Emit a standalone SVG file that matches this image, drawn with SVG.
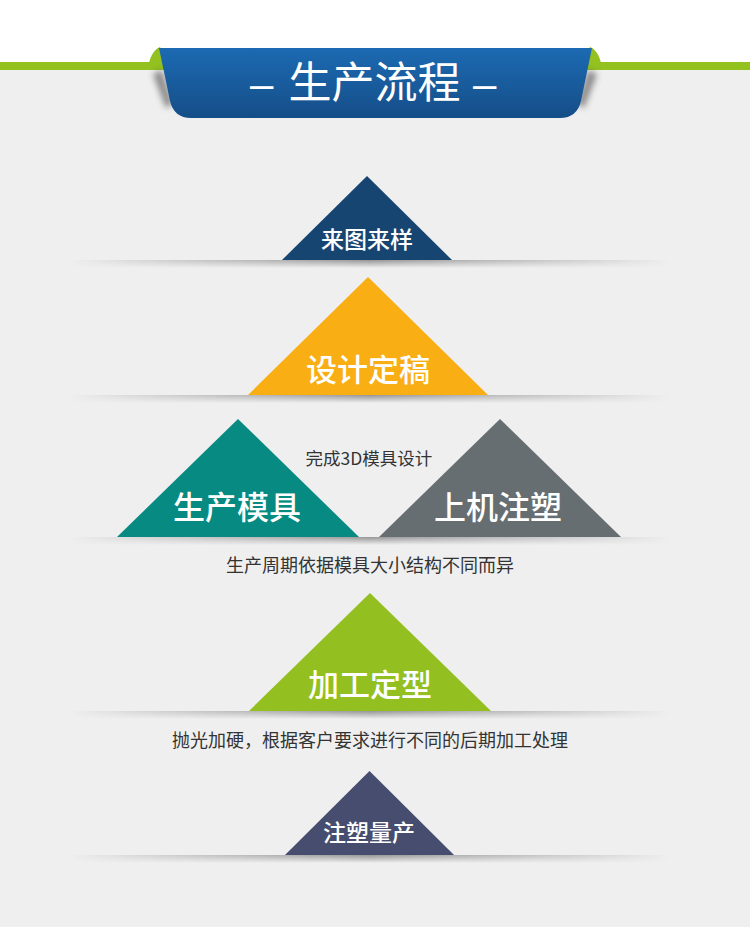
<svg xmlns="http://www.w3.org/2000/svg" width="750" height="927" viewBox="0 0 750 927">
  <defs>
    <style>
      .cjk { font-family: "Noto Sans CJK SC", "Noto Sans", sans-serif; }
      .tri-label { fill: #ffffff; text-anchor: middle; font-family: "Noto Sans CJK SC", sans-serif; font-weight: 500; }
      .note { fill: #333333; text-anchor: middle; font-family: "Noto Sans CJK SC", sans-serif; }
      .shadow { fill: url(#shadowH); mask: url(#shadowMask); }
    </style>
    <linearGradient id="bannerGrad" x1="0" y1="0" x2="0" y2="1">
      <stop offset="0" stop-color="#1c6ab2"/>
      <stop offset="1" stop-color="#154e88"/>
    </linearGradient>
    <linearGradient id="shadowH" x1="0" y1="0" x2="1" y2="0">
      <stop offset="0" stop-color="#b0b0b0" stop-opacity="0"/>
      <stop offset="0.25" stop-color="#b8b8b8" stop-opacity="0.85"/>
      <stop offset="0.5" stop-color="#959595" stop-opacity="1"/>
      <stop offset="0.75" stop-color="#b8b8b8" stop-opacity="0.85"/>
      <stop offset="1" stop-color="#b0b0b0" stop-opacity="0"/>
    </linearGradient>
    <linearGradient id="shadowV" x1="0" y1="0" x2="0" y2="1">
      <stop offset="0" stop-color="#ffffff" stop-opacity="1"/>
      <stop offset="1" stop-color="#ffffff" stop-opacity="0"/>
    </linearGradient>
    <mask id="shadowMask" maskContentUnits="objectBoundingBox">
      <rect x="0" y="0" width="1" height="1" fill="url(#shadowV)"/>
    </mask>
    <filter id="blur3" x="-50%" y="-50%" width="200%" height="200%">
      <feGaussianBlur stdDeviation="3"/>
    </filter>
  </defs>

  <!-- background -->
  <rect x="0" y="0" width="750" height="927" fill="#efefef"/>
  <rect x="0" y="0" width="750" height="63" fill="#ffffff"/>

  <!-- header -->
  <g id="header">
    <rect x="0" y="62" width="750" height="8" fill="#93c11f"/>
    <path d="M148,70 C149,58 153,50 160,47 L172,70 Z" fill="#93c11f"/>
    <path d="M602,70 C601,58 597,50 590,47 L578,70 Z" fill="#93c11f"/>
    <path d="M162,70 L153,74 L166,108 L173,104 Z" fill="#444444" opacity="0.6" filter="url(#blur3)"/>
    <path d="M588,70 L597,74 L584,108 L577,104 Z" fill="#444444" opacity="0.6" filter="url(#blur3)"/>
    <path d="M159,48 L592,48 L581,101 Q577,118 560,118 L191,118 Q174,118 170,101 Z" fill="url(#bannerGrad)"/>
    <text class="cjk" y="98" fill="#ffffff" font-size="43"><tspan x="250" font-family="Liberation Sans, sans-serif" font-size="42">–</tspan><tspan x="374.5" text-anchor="middle">生产流程</tspan><tspan x="473" font-family="Liberation Sans, sans-serif" font-size="42">–</tspan></text>
  </g>

  <!-- shadows under bases -->
  <g id="shadows">
    <rect class="shadow" x="70" y="260" width="600" height="8"/>
    <rect class="shadow" x="70" y="395" width="600" height="8"/>
    <rect class="shadow" x="70" y="537" width="600" height="8"/>
    <rect class="shadow" x="70" y="711" width="600" height="8"/>
    <rect class="shadow" x="70" y="855" width="600" height="8"/>
  </g>

  <g id="node-laitu">
    <polygon points="367,176 282,260 452,260" fill="#164572"/>
    <text class="tri-label" x="367" y="248" font-size="23">来图来样</text>
  </g>

  <g id="node-sheji">
    <polygon points="368,277 248,395 488,395" fill="#f9ae13"/>
    <text class="tri-label" x="368" y="380.5" font-size="31">设计定稿</text>
  </g>

  <g id="node-note-3d">
    <text class="note" x="369" y="464.5" font-size="17.5">完成3D模具设计</text>
  </g>

  <g id="node-muju">
    <polygon points="238,419 117,537 359,537" fill="#078a81"/>
    <text class="tri-label" x="237" y="519" font-size="32">生产模具</text>
  </g>

  <g id="node-zhusu">
    <polygon points="500,419 379,537 621,537" fill="#676e71"/>
    <text class="tri-label" x="498" y="519" font-size="32">上机注塑</text>
  </g>

  <g id="node-note-cycle">
    <text class="note" x="370" y="571.5" font-size="18">生产周期依据模具大小结构不同而异</text>
  </g>

  <g id="node-jiagong">
    <polygon points="370,593 249,711 491,711" fill="#93c020"/>
    <text class="tri-label" x="370" y="695.5" font-size="31">加工定型</text>
  </g>

  <g id="node-note-polish">
    <text class="note" x="370" y="747" font-size="18">抛光加硬，根据客户要求进行不同的后期加工处理</text>
  </g>

  <g id="node-liangchan">
    <polygon points="369.5,771 285,855 454,855" fill="#464d6e"/>
    <text class="tri-label" x="369" y="841" font-size="23">注塑量产</text>
  </g>
</svg>
